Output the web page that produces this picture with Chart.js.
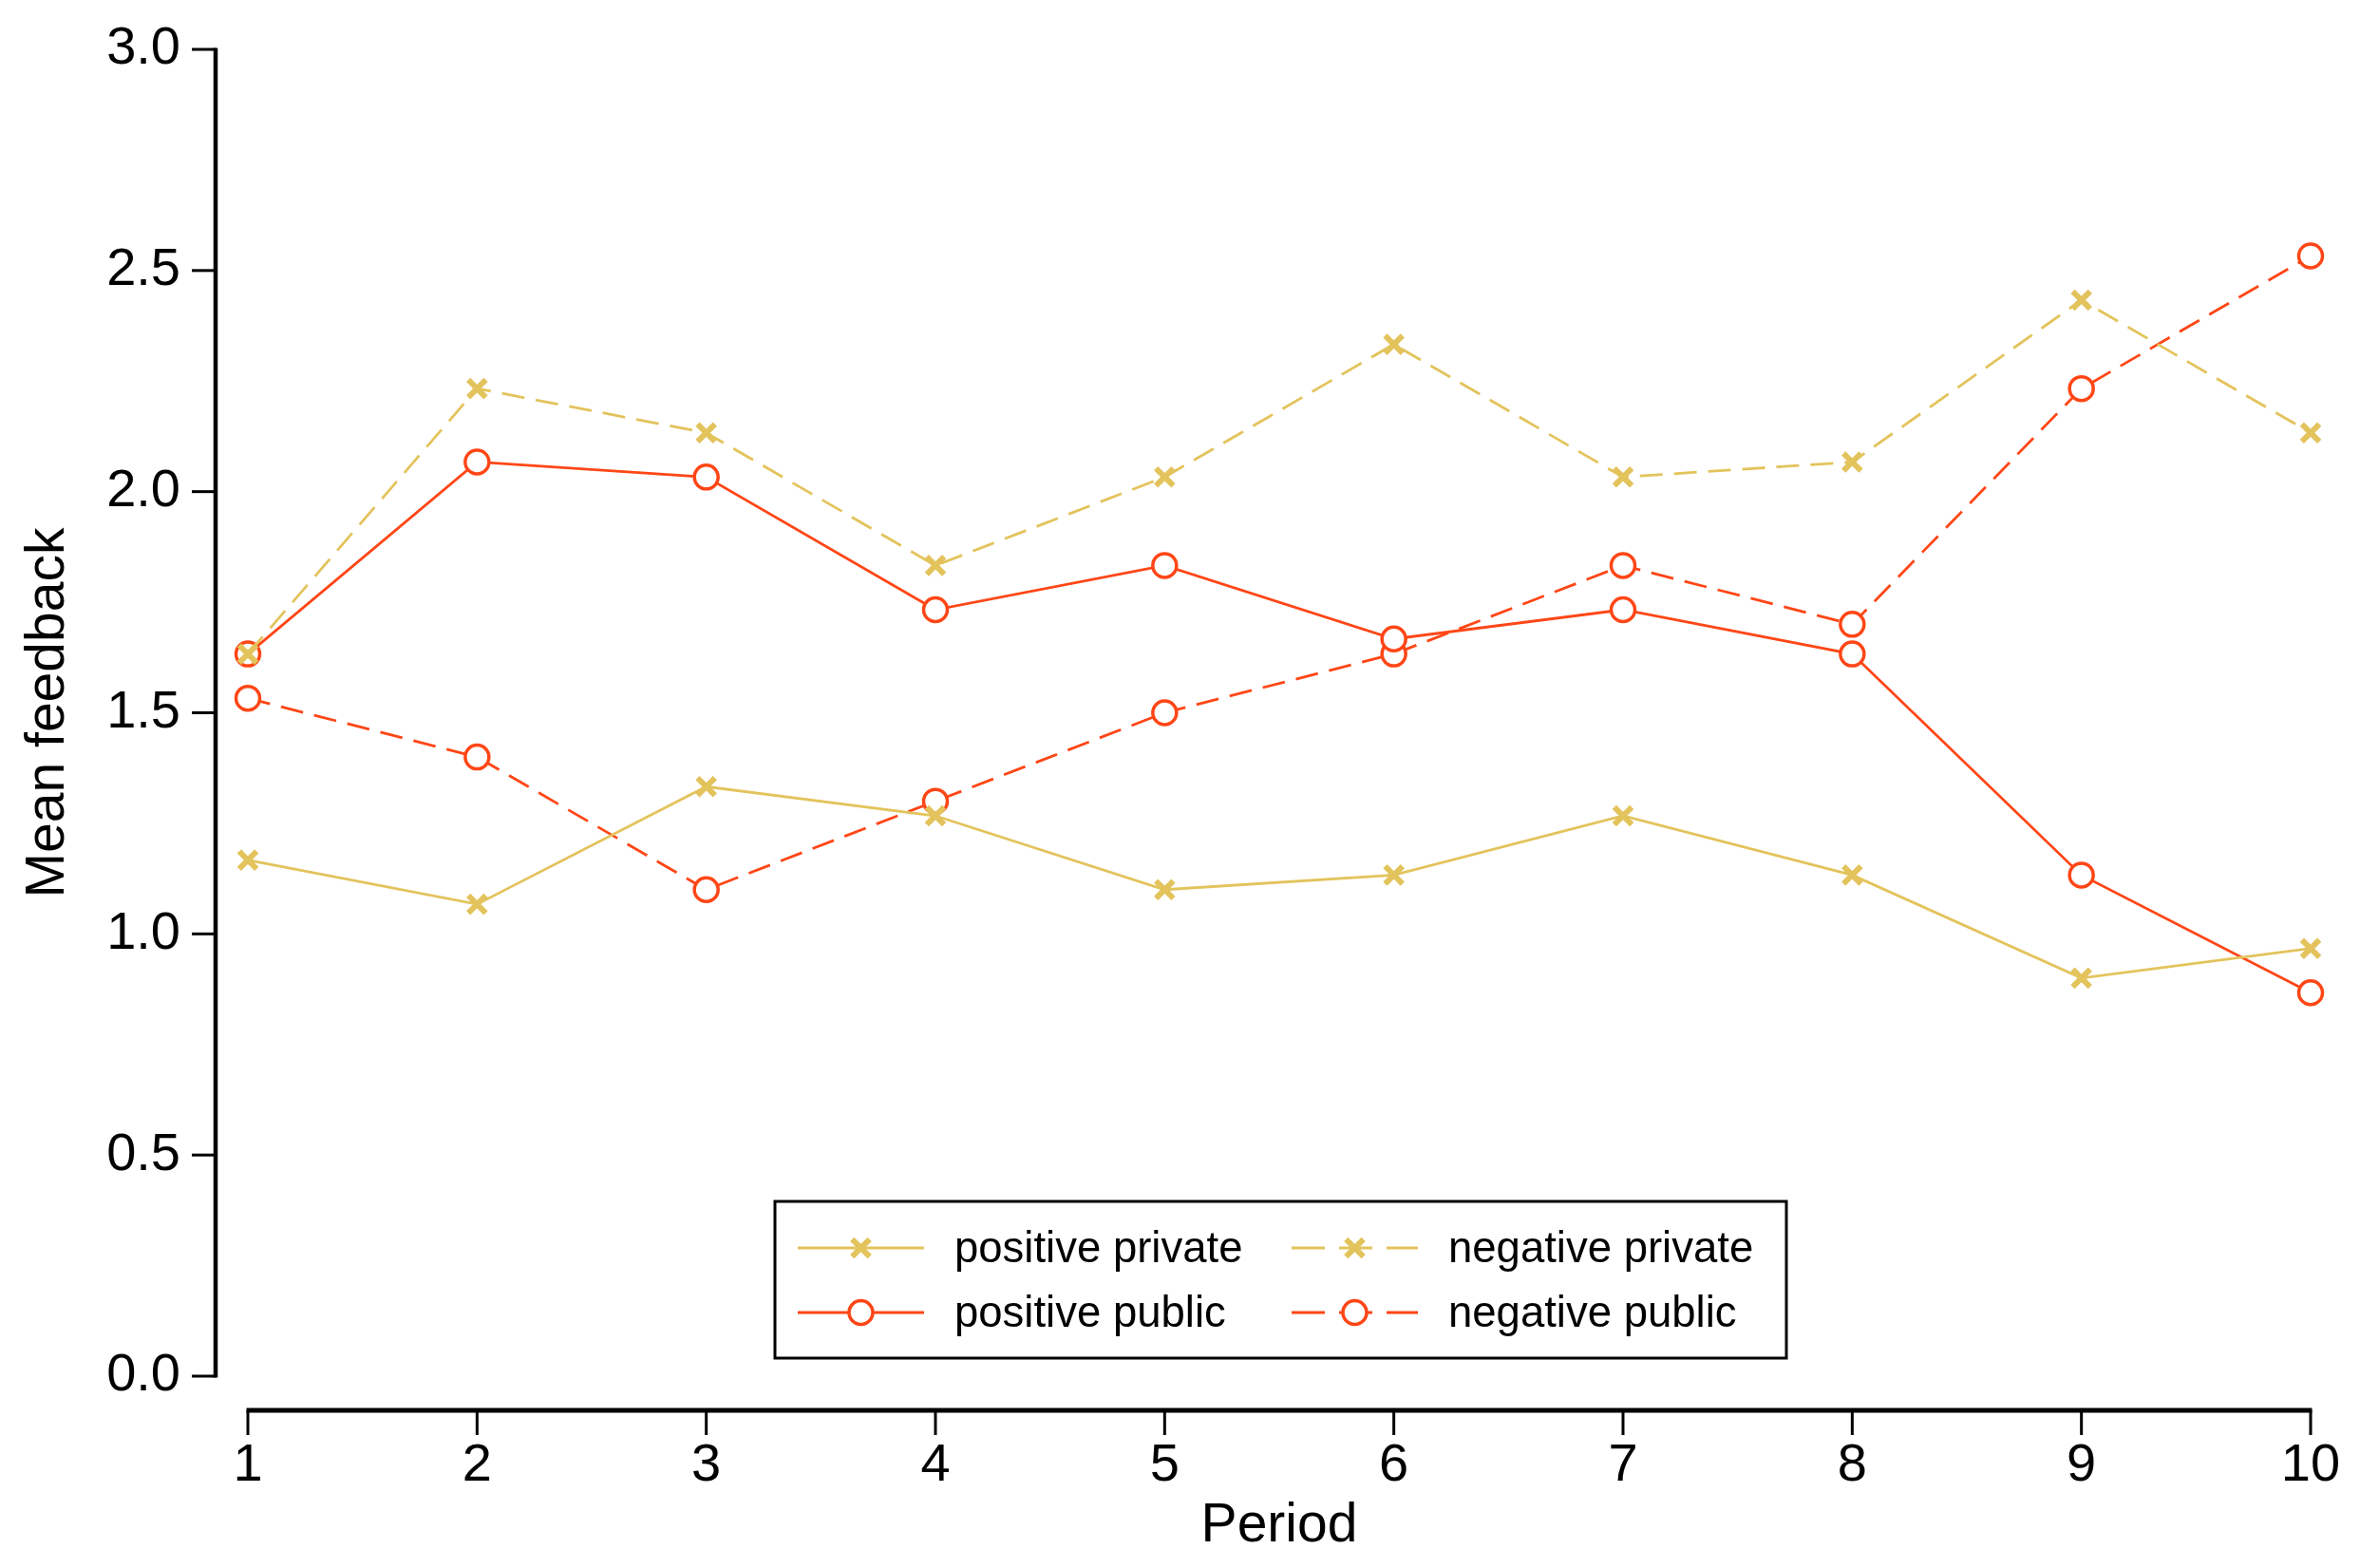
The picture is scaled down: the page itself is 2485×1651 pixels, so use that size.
<!DOCTYPE html>
<html>
<head>
<meta charset="utf-8">
<title>Mean feedback by period</title>
<script src="https://cdn.jsdelivr.net/npm/chart.js@4.4.1/dist/chart.umd.min.js"></script>
<style>
  html, body { margin: 0; padding: 0; background: #fff; }
  #wrap { width: 2485px; height: 1651px; }
</style>
</head>
<body>
<div id="wrap"><canvas id="chart" width="2485" height="1651"></canvas></div>
<script>
const periods = [1, 2, 3, 4, 5, 6, 7, 8, 9, 10];
const positivePrivate = [1.167, 1.067, 1.333, 1.267, 1.1, 1.133, 1.267, 1.133, 0.9, 0.967];
const negativePrivate = [1.633, 2.233, 2.133, 1.833, 2.033, 2.333, 2.033, 2.067, 2.433, 2.133];
const positivePublic = [1.633, 2.067, 2.033, 1.733, 1.833, 1.667, 1.733, 1.633, 1.133, 0.867];
const negativePublic = [1.533, 1.4, 1.1, 1.3, 1.5, 1.633, 1.833, 1.7, 2.233, 2.533];
const yTicks = [0, 0.5, 1, 1.5, 2, 2.5, 3];

const GOLD = '#E3C35C';
const RED = '#FF4616';
const DASH = [24, 12];
const FONT = "'Liberation Sans', Arial, sans-serif";

function toPoints(values) {
  return values.map((v, i) => ({ x: periods[i], y: v }));
}

function series(label, values, color, dashed, marker) {
  const isCircle = marker === 'circle';
  return {
    label: label,
    data: toPoints(values),
    borderColor: color,
    borderWidth: 2.8,
    borderDash: dashed ? DASH : [],
    pointStyle: isCircle ? 'circle' : 'crossRot',
    pointRadius: isCircle ? 12.5 : 13,
    pointBorderWidth: isCircle ? 3.5 : 6,
    pointBackgroundColor: '#fff',
    pointBorderColor: color,
    tension: 0,
    fill: false,
    clip: false,
  };
}

// axis lines drawn apart from the plot area, like the original figure
const axesPlugin = {
  id: 'detachedAxes',
  afterDraw(chart) {
    const ctx = chart.ctx;
    const x = chart.scales.x;
    const y = chart.scales.y;
    const yLineX = chart.chartArea.left - 34;
    const xLineY = chart.chartArea.bottom + 36;
    ctx.save();
    ctx.strokeStyle = '#000';
    ctx.lineCap = 'butt';

    ctx.lineWidth = 4.5;
    ctx.beginPath();
    ctx.moveTo(yLineX, y.getPixelForValue(3) - 1.5);
    ctx.lineTo(yLineX, y.getPixelForValue(0) + 1.5);
    ctx.stroke();
    ctx.lineWidth = 3;
    yTicks.forEach((t) => {
      const py = y.getPixelForValue(t);
      ctx.beginPath();
      ctx.moveTo(yLineX - 25, py);
      ctx.lineTo(yLineX, py);
      ctx.stroke();
    });

    ctx.lineWidth = 5;
    ctx.beginPath();
    ctx.moveTo(x.getPixelForValue(1) - 1.5, xLineY);
    ctx.lineTo(x.getPixelForValue(10) + 1.5, xLineY);
    ctx.stroke();
    ctx.lineWidth = 3;
    periods.forEach((p) => {
      const px = x.getPixelForValue(p);
      ctx.beginPath();
      ctx.moveTo(px, xLineY);
      ctx.lineTo(px, xLineY + 26);
      ctx.stroke();
    });
    ctx.restore();
  },
};

// legend box sits inside the plot, two columns
const legendPlugin = {
  id: 'insideLegend',
  afterDraw(chart) {
    const ctx = chart.ctx;
    const box = { left: 816, top: 1265, right: 1881, bottom: 1430 };
    const cols = [840, 1360];
    const rows = [1314, 1382];
    const order = [0, 1, 2, 3];
    ctx.save();
    ctx.fillStyle = '#fff';
    ctx.fillRect(box.left, box.top, box.right - box.left, box.bottom - box.top);
    ctx.strokeStyle = '#000';
    ctx.lineWidth = 3;
    ctx.strokeRect(box.left, box.top, box.right - box.left, box.bottom - box.top);

    order.forEach((di, k) => {
      const ds = chart.data.datasets[di];
      const sx = cols[k % 2];
      const sy = rows[Math.floor(k / 2)];
      const len = 133;
      ctx.save();
      ctx.strokeStyle = ds.borderColor;
      ctx.lineWidth = ds.borderWidth;
      if (ds.borderDash.length) {
        ctx.setLineDash([35, 15]);
        ctx.lineDashOffset = 0;
      }
      ctx.beginPath();
      ctx.moveTo(sx, sy);
      ctx.lineTo(sx + len, sy);
      ctx.stroke();
      ctx.restore();
      ctx.save();
      ctx.strokeStyle = ds.pointBorderColor;
      ctx.fillStyle = ds.pointBackgroundColor;
      ctx.lineWidth = ds.pointBorderWidth;
      Chart.helpers.drawPoint(ctx, {
        pointStyle: ds.pointStyle,
        radius: ds.pointRadius,
        borderWidth: ds.pointBorderWidth,
        rotation: 0,
      }, sx + len / 2, sy);
      ctx.restore();

      ctx.fillStyle = '#000';
      ctx.font = '45.5px ' + FONT;
      ctx.textAlign = 'left';
      ctx.textBaseline = 'middle';
      ctx.fillText(ds.label, sx + 165, sy + 2);
    });
    ctx.restore();
  },
};

new Chart(document.getElementById('chart'), {
  type: 'line',
  data: {
    datasets: [
      series('positive private', positivePrivate, GOLD, false, 'x'),
      series('negative private', negativePrivate, GOLD, true, 'x'),
      series('positive public', positivePublic, RED, false, 'circle'),
      series('negative public', negativePublic, RED, true, 'circle'),
    ],
  },
  options: {
    responsive: false,
    devicePixelRatio: 1,
    animation: false,
    layout: { padding: { top: 52, right: 52, left: 0, bottom: 0 } },
    plugins: {
      legend: { display: false },
      tooltip: { enabled: false },
    },
    scales: {
      x: {
        type: 'linear',
        min: 1,
        max: 10,
        afterFit: (s) => {
          s.height = 202;
          s.paddingLeft = 0;
          s.paddingRight = 0;
        },
        afterBuildTicks: (s) => { s.ticks = periods.map((v) => ({ value: v })); },
        grid: { display: false, drawTicks: false },
        border: { display: false },
        ticks: {
          color: '#000',
          padding: 61,
          font: { family: FONT, size: 56 },
          callback: (v) => String(v),
        },
        title: {
          display: true,
          text: 'Period',
          color: '#000',
          font: { family: FONT, size: 57 },
          padding: { top: 0, bottom: 10 },
        },
      },
      y: {
        min: 0,
        max: 3,
        afterFit: (s) => {
          s.width = 261;
          s.paddingTop = 0;
          s.paddingBottom = 0;
        },
        afterBuildTicks: (s) => { s.ticks = yTicks.map((v) => ({ value: v })); },
        grid: { display: false, drawTicks: false },
        border: { display: false },
        ticks: {
          color: '#000',
          padding: 71,
          font: { family: FONT, size: 56 },
          callback: (v) => v.toFixed(1),
        },
        title: {
          display: true,
          text: 'Mean feedback',
          color: '#000',
          font: { family: FONT, size: 57 },
          padding: { top: 17, bottom: 0 },
        },
      },
    },
  },
  plugins: [axesPlugin, legendPlugin],
});
</script>
</body>
</html>
